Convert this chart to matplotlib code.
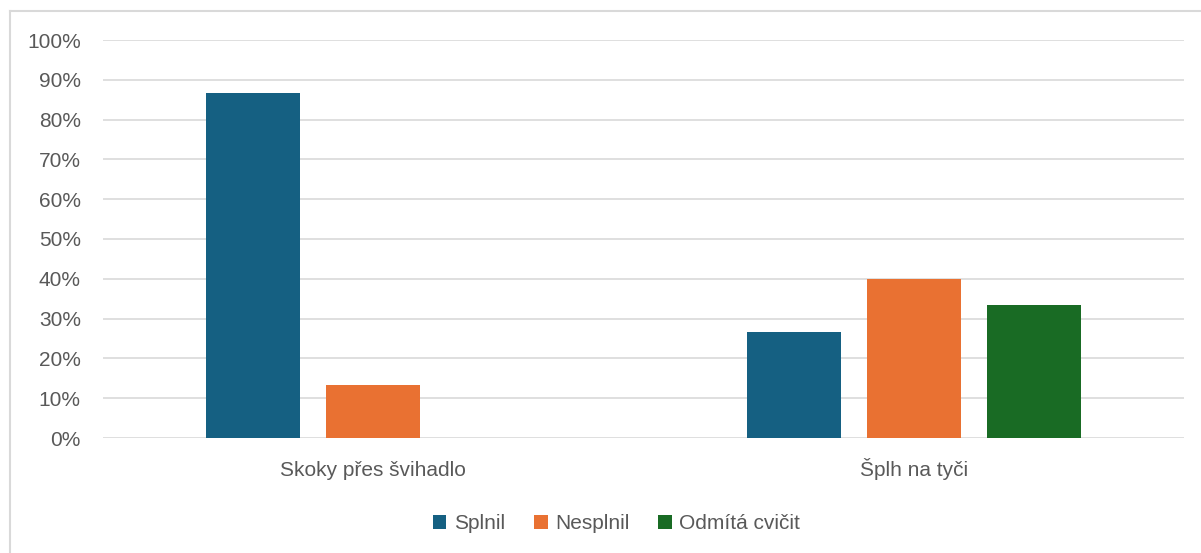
import matplotlib
matplotlib.use("Agg")
import matplotlib.pyplot as plt
from matplotlib.lines import Line2D
import numpy as np

# data
categories = ["Skoky přes švihadlo", "Šplh na tyči"]
series_names = ["Splnil", "Nesplnil", "Odmítá cvičit"]
splnil = [86.7, 26.7]
nesplnil = [13.3, 40.0]
odmita = [0.0, 33.3]
y_ticks = list(range(0, 101, 10))
y_labels = [f"{t}%" for t in y_ticks]

colors = ["#156082", "#E97132", "#196B24"]
text_col = "#595959"
grid_col = "#D9D9D9"
FS = 15

plt.rcParams["font.family"] = ["Liberation Sans", "DejaVu Sans"]

W, H = 1201, 553
fig = plt.figure(figsize=(W / 100, H / 100), dpi=100)
ax = fig.add_axes([103 / W, 1 - 438 / H, (1184 - 103) / W, (438 - 40) / H])

x = np.arange(len(categories))
width = 94 / 540
step = 120 / 540
for i, (vals, name) in enumerate(zip([splnil, nesplnil, odmita], series_names)):
    ax.bar(x + (i - 1) * step, vals, width, color=colors[i], label=name, zorder=3)

ax.set_xlim(-0.5, 1.5)
ax.set_ylim(0, 100)
ax.set_yticks(y_ticks)
ax.set_yticklabels(y_labels)
ax.set_xticks(x)
ax.set_xticklabels([])
# category labels on a common baseline
for xi, cat in zip(x, categories):
    ax.text(xi, -0.095, cat, transform=ax.get_xaxis_transform(), ha="center",
            va="baseline", fontsize=FS, color=text_col)
ax.yaxis.grid(True, color=grid_col, linewidth=1.2, zorder=0)
ax.tick_params(axis="both", length=0, labelsize=FS, colors=text_col)
ax.tick_params(axis="y", pad=16)
for s in ax.spines.values():
    s.set_visible(False)

ax.legend(loc="center", bbox_to_anchor=(0.475, -0.215), ncol=3, frameon=False,
          fontsize=FS, labelcolor=text_col, handlelength=0.65, handleheight=0.65,
          handletextpad=0.35, columnspacing=1.4)

# chart frame (only left/top visible in the crop)
fig.add_artist(Line2D([10 / W, 10 / W], [0, 1 - 11 / H], color=grid_col, linewidth=1.5))
fig.add_artist(Line2D([10 / W, 1], [1 - 11 / H, 1 - 11 / H], color=grid_col, linewidth=1.5))

fig.savefig("out.png", dpi=100, facecolor="white")
